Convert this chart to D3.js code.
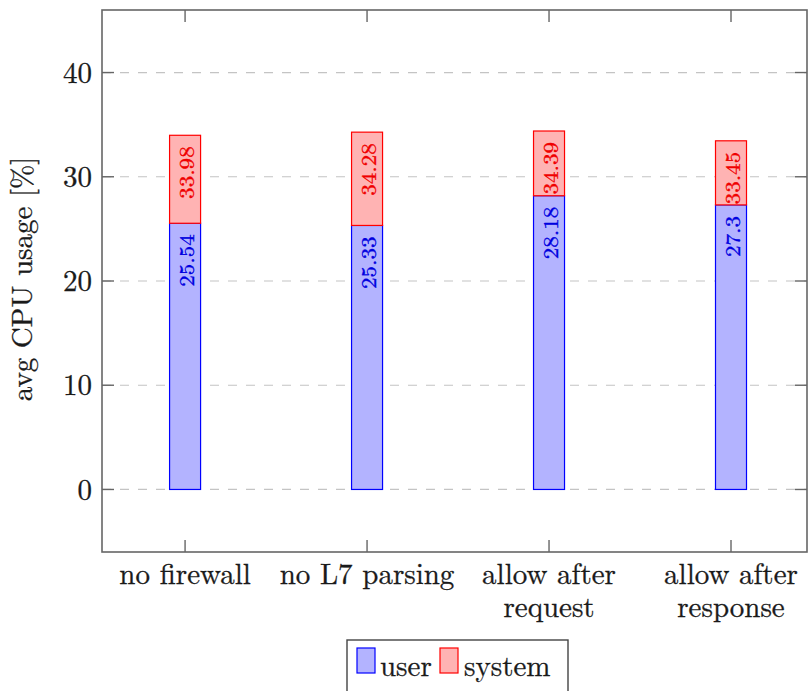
<!DOCTYPE html>
<html>
<head>
<meta charset="utf-8">
<script src="https://cdn.jsdelivr.net/npm/d3@7"></script>
<style>
  html, body { margin: 0; padding: 0; background: #fff; }
  svg { display: block; }
</style>
</head>
<body>
<svg id="chart" width="811" height="691"></svg>
<script>
// ---- data ----
const categories = [["no firewall"], ["no L7 parsing"], ["allow after", "request"], ["allow after", "response"]];
const userValues = [25.54, 25.33, 28.18, 27.3];
const systemValues = [8.44, 8.95, 6.21, 6.15];
const yTicks = [0, 10, 20, 30, 40];
const seriesNames = ["user", "system"];

// ---- layout ----
const FONT = '"Latin Modern Roman", "Liberation Serif", serif';
const svg = d3.select("#chart").attr("font-family", FONT);
const plotL = 102, plotR = 807, plotT = 10, plotB = 552;
const x = d3.scaleLinear().domain([-0.4565, 3.4176]).range([plotL, plotR]);
const y = d3.scaleLinear().domain([-6, 46]).range([plotB, plotT]);
const barW = 31;
const tickLen = 12;
const axisColor = "#666";
const textColor = "#1a1a1a";
const colors = {
  user: { fill: "#b3b3ff", stroke: "#0000ff", text: "#0000e0" },
  system: { fill: "#ffb3b3", stroke: "#ff0000", text: "#f00000" }
};

// grid
svg.append("g").selectAll("line").data(yTicks).join("line")
  .attr("x1", plotL).attr("x2", plotR)
  .attr("y1", d => y(d)).attr("y2", d => y(d))
  .attr("stroke", "#c4c4c4").attr("stroke-width", 1.2)
  .attr("stroke-dasharray", "9,9");

// stacked data
const stack = d3.stack().keys(seriesNames)(
  categories.map((c, i) => ({ idx: i, user: userValues[i], system: systemValues[i] }))
);

stack.forEach(layer => {
  const key = layer.key;
  svg.append("g").selectAll("rect").data(layer).join("rect")
    .attr("x", d => x(d.data.idx) - barW / 2)
    .attr("width", barW)
    .attr("y", d => y(d[1]))
    .attr("height", d => y(d[0]) - y(d[1]))
    .attr("fill", colors[key].fill)
    .attr("stroke", colors[key].stroke)
    .attr("stroke-width", 1.2);
});

// labels (cumulative, as in pgfplots stacked nodes near coords)
stack.forEach(layer => {
  const key = layer.key;
  svg.append("g").selectAll("text").data(layer).join("text")
    .attr("transform", d => `translate(${x(d.data.idx)},${y(d[1]) + 11}) rotate(-90) scale(1.1,1)`)
    .attr("text-anchor", "end")
    .attr("dominant-baseline", "central")
    .attr("font-size", 21)
    .attr("stroke", colors[key].text).attr("stroke-width", 0.35)
    .attr("fill", colors[key].text)
    .text(d => +d[1].toFixed(2));
});

// axis frame
svg.append("rect")
  .attr("x", plotL).attr("y", plotT)
  .attr("width", plotR - plotL).attr("height", plotB - plotT)
  .attr("fill", "none").attr("stroke", axisColor).attr("stroke-width", 1.6);

// y ticks (both sides, inward)
const yt = svg.append("g");
yTicks.forEach(t => {
  yt.append("line").attr("x1", plotL).attr("x2", plotL + tickLen)
    .attr("y1", y(t)).attr("y2", y(t)).attr("stroke", axisColor).attr("stroke-width", 1.4);
  yt.append("line").attr("x1", plotR).attr("x2", plotR - tickLen)
    .attr("y1", y(t)).attr("y2", y(t)).attr("stroke", axisColor).attr("stroke-width", 1.4);
});
svg.append("g").selectAll("text").data(yTicks).join("text")
  .attr("x", plotL - 10).attr("y", d => y(d))
  .attr("dy", "0.35em")
  .attr("text-anchor", "end")
  .attr("font-size", 29)
  .attr("fill", textColor).attr("stroke", textColor).attr("stroke-width", 0.3)
  .text(d => d);

// x ticks (top and bottom, inward)
categories.forEach((c, i) => {
  svg.append("line").attr("x1", x(i)).attr("x2", x(i))
    .attr("y1", plotB).attr("y2", plotB - tickLen).attr("stroke", axisColor).attr("stroke-width", 1.4);
  svg.append("line").attr("x1", x(i)).attr("x2", x(i))
    .attr("y1", plotT).attr("y2", plotT + tickLen).attr("stroke", axisColor).attr("stroke-width", 1.4);
});
const xl = svg.append("g").selectAll("text").data(categories).join("text")
  .attr("text-anchor", "middle")
  .attr("font-size", 29)
  .attr("fill", textColor).attr("stroke", textColor).attr("stroke-width", 0.3);
xl.each(function(lines, i) {
  d3.select(this).selectAll("tspan").data(lines).join("tspan")
    .attr("x", x(i))
    .attr("y", (d, j) => 584 + j * 33)
    .text(d => d);
});

// y axis label
svg.append("text")
  .attr("transform", `translate(32,${(y(46) + y(-6)) / 2 - 2}) rotate(-90)`)
  .attr("text-anchor", "middle")
  .attr("font-size", 29)
  .attr("fill", textColor).attr("stroke", textColor).attr("stroke-width", 0.3)
  .text("avg CPU usage [%]");

// legend
const lg = svg.append("g");
lg.append("rect").attr("x", 347).attr("y", 640).attr("width", 221).attr("height", 70)
  .attr("fill", "#fff").attr("stroke", "#444").attr("stroke-width", 1.4);
const legendItems = [
  { key: "user", sx: 357, tx: 380 },
  { key: "system", sx: 440, tx: 464 }
];
legendItems.forEach(it => {
  lg.append("rect").attr("x", it.sx).attr("y", 648).attr("width", 18).attr("height", 25)
    .attr("fill", colors[it.key].fill).attr("stroke", colors[it.key].stroke).attr("stroke-width", 1.2);
  lg.append("text").attr("x", it.tx).attr("y", 676)
    .attr("font-size", 29).attr("fill", textColor).attr("stroke", textColor).attr("stroke-width", 0.3)
    .text(it.key);
});
</script>
</body>
</html>
